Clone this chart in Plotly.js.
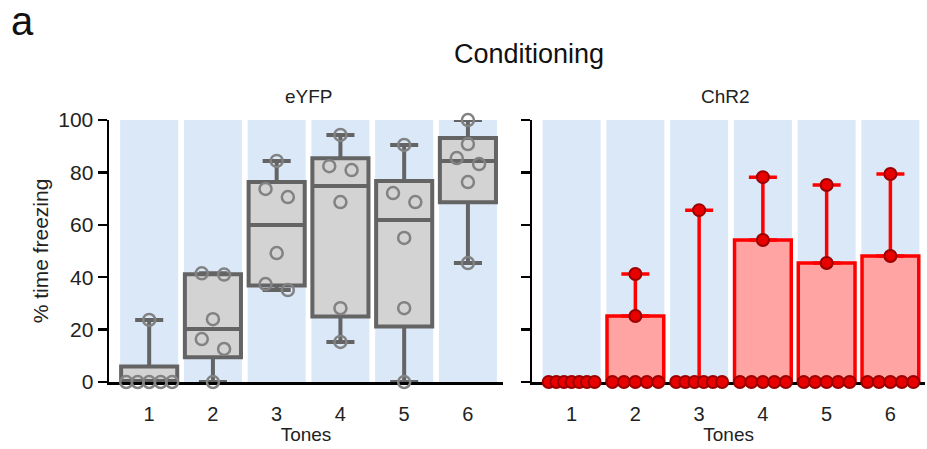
<!DOCTYPE html>
<html>
<head>
<meta charset="utf-8">
<script src="https://cdn.plot.ly/plotly-3.0.1.min.js"></script>
<style>html,body{margin:0;padding:0;background:#fff;}#chart{width:927px;height:449px;}</style>
</head>
<body>
<div id="chart"></div>
<script>
// ---- data ----
const tones = [1, 2, 3, 4, 5, 6];
const toneLabels = ['1', '2', '3', '4', '5', '6'];

// eYFP individual values (% time freezing) per tone
const eyfpT1 = [0, 0, 0, 0, 0, 23.7];
const eyfpT2 = [0, 12.6, 16.4, 24.0, 41.0, 41.5];
const eyfpT3 = [35.1, 37.4, 49.2, 70.6, 73.7, 84.4];
const eyfpT4 = [15.3, 28.2, 68.7, 80.9, 82.4, 94.3];
const eyfpT5 = [0, 28.2, 55.0, 68.7, 72.1, 90.5];
const eyfpT6 = [45.4, 76.3, 83.2, 85.5, 90.8, 100];

// ChR2 individual values per tone
const chr2T1 = [0, 0, 0, 0, 0, 0, 0];
const chr2T2 = [0, 0, 0, 0, 0, 25.2, 41.2];
const chr2T3 = [0, 0, 0, 0, 0, 0, 65.6];
const chr2T4 = [0, 0, 0, 0, 0, 54.2, 78.2];
const chr2T5 = [0, 0, 0, 0, 0, 45.4, 75.2];
const chr2T6 = [0, 0, 0, 0, 0, 48.1, 79.4];
// ChR2 bar heights
const chr2Bar = [0, 25.2, 0, 54.2, 45.4, 48.1];

// ---- helpers ----
const eyfp = [eyfpT1, eyfpT2, eyfpT3, eyfpT4, eyfpT5, eyfpT6];
const chr2 = [chr2T1, chr2T2, chr2T3, chr2T4, chr2T5, chr2T6];

function quant(arr, p) {
  const s = arr.slice().sort((a, b) => a - b);
  const n = s.length;
  const h = (n + 1) * p;
  const lo = Math.floor(h);
  if (lo < 1) return s[0];
  if (lo >= n) return s[n - 1];
  return s[lo - 1] + (h - lo) * (s[lo] - s[lo - 1]);
}

// simple swarm: group close values, spread each group horizontally
function swarm(vals, center) {
  const s = vals.slice().sort((a, b) => b - a);
  const groups = [];
  s.forEach(v => {
    const g = groups[groups.length - 1];
    if (g && Math.abs(g[g.length - 1] - v) < 4) g.push(v); else groups.push([v]);
  });
  const xs = [], ys = [];
  groups.forEach(g => {
    const n = g.length;
    const d = n > 1 ? Math.min(0.35, 0.72 / (n - 1)) : 0;
    g.forEach((v, i) => { xs.push(center + (i - (n - 1) / 2) * d); ys.push(v); });
  });
  return {xs, ys};
}

const FONT = 'Liberation Sans, Arial, sans-serif';

// box stats
const q1 = eyfp.map(a => quant(a, 0.25));
const med = eyfp.map(a => quant(a, 0.5));
const q3 = eyfp.map(a => quant(a, 0.75));
const lo = eyfp.map(a => Math.min(...a));
const hi = eyfp.map(a => Math.max(...a));

let ex = [], ey = [];
eyfp.forEach((a, i) => { const r = swarm(a, tones[i]); ex = ex.concat(r.xs); ey = ey.concat(r.ys); });
let cx = [], cy = [];
chr2.forEach((a, i) => { const r = swarm(a, tones[i]); cx = cx.concat(r.xs); cy = cy.concat(r.ys); });

const chr2Err = chr2.map((a, i) => { const e = Math.max(...a) - chr2Bar[i]; return e > 0 ? e : NaN; });

const traces = [
  {
    type: 'box', x: tones, q1: q1, median: med, q3: q3, lowerfence: lo, upperfence: hi,
    xaxis: 'x', yaxis: 'y', width: 0.88, whiskerwidth: 0.5, boxpoints: false,
    fillcolor: '#d3d3d3', line: {color: '#646464', width: 4}, hoverinfo: 'skip'
  },
  {
    type: 'scatter', mode: 'markers', x: ex, y: ey, xaxis: 'x', yaxis: 'y', cliponaxis: false,
    marker: {size: 12, color: 'rgba(0,0,0,0)', line: {color: '#828282', width: 2.5}}, hoverinfo: 'skip'
  },
  {
    type: 'bar', x: tones, y: chr2Bar, xaxis: 'x2', yaxis: 'y2', width: 0.89, cliponaxis: false,
    marker: {color: '#ffa3a3', line: {color: '#ff0000', width: 3.5}},
    error_y: {type: 'data', symmetric: false, array: chr2Err, arrayminus: tones.map(() => 0),
              color: '#ff0000', thickness: 3.5, width: 14},
    hoverinfo: 'skip'
  },
  {
    type: 'scatter', mode: 'markers', x: cx, y: cy, xaxis: 'x2', yaxis: 'y2', cliponaxis: false,
    marker: {size: 12, color: '#e80000', line: {color: '#9a0000', width: 2}}, hoverinfo: 'skip'
  }
];

const bandColor = '#dae8f8';
const shapes = [];
[['x', 'y'], ['x2', 'y2']].forEach(([xr, yr]) => {
  tones.forEach(t => shapes.push({
    type: 'rect', xref: xr, yref: yr, x0: t - 0.455, x1: t + 0.455, y0: 0, y1: 100,
    fillcolor: bandColor, line: {width: 0}, layer: 'below'
  }));
});

const yDom = [0.1492, 0.7327];
const xCommon = {
  tickmode: 'array', tickvals: tones, ticktext: toneLabels, ticks: '',
  showline: true, linecolor: '#000', linewidth: 2.5, showgrid: false, zeroline: false,
  tickfont: {family: FONT, size: 20, color: '#222'}, ticklabelstandoff: 12,
  title: {text: 'Tones', font: {family: FONT, size: 19, color: '#222'}, standoff: 2},
  layer: 'below traces', fixedrange: true
};
const yCommon = {
  range: [0, 100], tickmode: 'linear', tick0: 0, dtick: 20, ticks: 'outside', ticklen: 9,
  tickwidth: 2.5, tickcolor: '#000', showline: true, linecolor: '#000', linewidth: 2.5,
  showgrid: false, zeroline: false, layer: 'below traces', fixedrange: true,
  tickfont: {family: FONT, size: 21, color: '#222'}
};

const layout = {
  width: 927, height: 449,
  margin: {l: 0, r: 0, t: 0, b: 0},
  paper_bgcolor: '#fff', plot_bgcolor: 'rgba(0,0,0,0)',
  showlegend: false, barmode: 'overlay',
  font: {family: FONT, color: '#222'},
  xaxis: Object.assign({}, xCommon, {domain: [0.1176, 0.5426], range: [0.37, 6.55], anchor: 'y'}),
  yaxis: Object.assign({}, yCommon, {domain: yDom, anchor: 'x',
    title: {text: '% time freezing', font: {family: FONT, size: 21, color: '#222'}, standoff: 4}}),
  xaxis2: Object.assign({}, xCommon, {domain: [0.574, 0.998], range: [0.38, 6.545], anchor: 'y2'}),
  yaxis2: Object.assign({}, yCommon, {domain: yDom, anchor: 'x2', showticklabels: false}),
  shapes: shapes,
  annotations: [
    {text: 'a', xref: 'paper', yref: 'paper', x: 0.01, y: 0.953, xanchor: 'left', yanchor: 'middle',
     showarrow: false, font: {family: FONT, size: 40, color: '#111'}},
    {text: 'Conditioning', xref: 'paper', yref: 'paper', x: 0.5707, y: 0.8797, xanchor: 'center', yanchor: 'middle',
     showarrow: false, font: {family: FONT, size: 27, color: '#111'}},
    {text: 'eYFP', xref: 'paper', yref: 'paper', x: 0.333, y: 0.784, xanchor: 'center', yanchor: 'middle',
     showarrow: false, font: {family: FONT, size: 19, color: '#222'}},
    {text: 'ChR2', xref: 'paper', yref: 'paper', x: 0.783, y: 0.784, xanchor: 'center', yanchor: 'middle',
     showarrow: false, font: {family: FONT, size: 19, color: '#222'}}
  ]
};

Plotly.newPlot('chart', traces, layout, {staticPlot: true, displayModeBar: false});
</script>
</body>
</html>
